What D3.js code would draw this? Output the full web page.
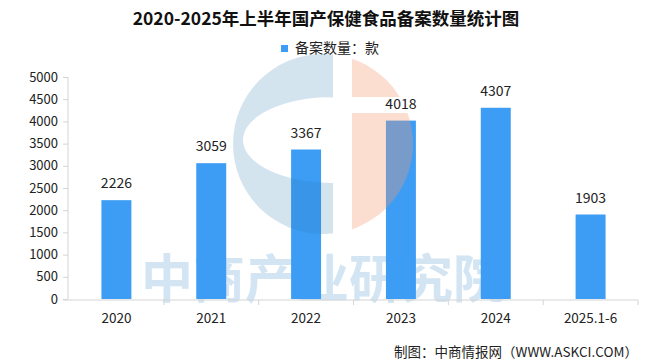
<!DOCTYPE html>
<html>
<head>
<meta charset="utf-8">
<script src="https://cdn.jsdelivr.net/npm/d3@7"></script>
<style>
  body { margin: 0; background: #fff; }
  text { font-family: "Noto Sans CJK SC", "Noto Sans", sans-serif; }
  .tick text { fill: #222; }
</style>
</head>
<body>
<script>
// data
const categories = ['2020', '2021', '2022', '2023', '2024', '2025.1-6'];
const values = [2226, 3059, 3367, 4018, 4307, 1903];
const yTicks = [0, 500, 1000, 1500, 2000, 2500, 3000, 3500, 4000, 4500, 5000];

const SIZE = { width: 646, height: 360 };
const PLOT = { left: 69, right: 638, top: 77, bottom: 299 };
const BAR_COLOR = '#3d9df5';

const svg = d3.select('body').append('svg')
    .attr('width', SIZE.width)
    .attr('height', SIZE.height);

const x = d3.scaleBand()
    .domain(categories)
    .range([PLOT.left, PLOT.right])
    .paddingInner(0.684)
    .paddingOuter(0.342);

const y = d3.scaleLinear()
    .domain([0, 5000])
    .range([PLOT.bottom, PLOT.top]);

// watermark text sits under the bars
svg.append('text')
    .attr('x', 323)
    .attr('y', 298)
    .attr('text-anchor', 'middle')
    .style('font-size', '52px')
    .style('font-weight', 700)
    .style('fill', '#d3e5f3')
    .text('中商产业研究院');

// title
svg.append('text')
    .attr('x', 326)
    .attr('y', 25)
    .attr('text-anchor', 'middle')
    .style('font-size', '17.5px')
    .style('font-weight', 700)
    .style('fill', '#111')
    .text('2020-2025年上半年国产保健食品备案数量统计图');

// legend
svg.append('rect')
    .attr('x', 281).attr('y', 45)
    .attr('width', 7).attr('height', 7)
    .attr('fill', BAR_COLOR);
svg.append('text')
    .attr('x', 295).attr('y', 53)
    .style('font-size', '14px')
    .style('fill', '#222')
    .text('备案数量：款');

// y axis
const yAxis = d3.axisLeft(y)
    .tickValues(yTicks)
    .tickFormat(d3.format('d'))
    .tickSize(5)
    .tickPadding(5);
const yAxisGroup = svg.append('g')
    .attr('transform', `translate(${PLOT.left - 1},0)`)
    .call(yAxis);
yAxisGroup.select('.domain').attr('stroke', '#d4d4d4').attr('d', `M0,${PLOT.top}V${PLOT.bottom}`);
yAxisGroup.selectAll('.tick line').attr('stroke', '#d4d4d4');
yAxisGroup.selectAll('.tick text').style('font-size', '13px');

// x axis: ticks at category boundaries
const xAxisGroup = svg.append('g')
    .attr('transform', `translate(0,${PLOT.bottom + 1})`);
xAxisGroup.append('line')
    .attr('x1', PLOT.left - 6).attr('x2', PLOT.right)
    .attr('stroke', '#d4d4d4');
const boundaries = categories.map(c => x(c) - x.step() * x.paddingInner() / 2).slice(1).concat([PLOT.right]);
xAxisGroup.selectAll('.xtick')
    .data(boundaries)
    .join('line')
    .attr('class', 'xtick')
    .attr('x1', d => d).attr('x2', d => d)
    .attr('y1', 0).attr('y2', 5)
    .attr('stroke', '#d4d4d4');
xAxisGroup.selectAll('.xlabel')
    .data(categories)
    .join('text')
    .attr('class', 'xlabel')
    .attr('x', d => x(d) + x.bandwidth() / 2)
    .attr('y', 23)
    .attr('text-anchor', 'middle')
    .style('font-size', '13.5px')
    .style('fill', '#222')
    .text(d => d);

// bars
svg.selectAll('.bar')
    .data(values)
    .join('rect')
    .attr('class', 'bar')
    .attr('x', (d, i) => x(categories[i]))
    .attr('width', x.bandwidth())
    .attr('y', d => y(d))
    .attr('height', d => y(0) - y(d))
    .attr('fill', BAR_COLOR);

svg.selectAll('.label')
    .data(values)
    .join('text')
    .attr('class', 'label')
    .attr('x', (d, i) => x(categories[i]) + x.bandwidth() / 2)
    .attr('y', d => y(d) - 12)
    .attr('text-anchor', 'middle')
    .style('font-size', '14px')
    .style('fill', '#222')
    .text(d => d);

// logo watermark on top of the bars
const logo = { cx: 323, cy: 144, r: 90 };
const defs = svg.append('defs');
defs.append('clipPath').attr('id', 'logoClip')
    .append('circle')
    .attr('cx', logo.cx).attr('cy', logo.cy).attr('r', logo.r);
const logoGroup = svg.append('g').attr('clip-path', 'url(#logoClip)');

// blue "C": left part of the circle with an elliptical hollow
const hx = 333, hy = 140, hrx = 90, hry = 43;
logoGroup.append('path')
    .attr('d', `M${logo.cx - logo.r},${logo.cy - logo.r}H${hx}V${logo.cy + logo.r}H${logo.cx - logo.r}Z ` +
        `M${hx},${hy - hry}A${hrx},${hry} 0 1,0 ${hx},${hy + hry}Z`)
    .attr('fill-rule', 'evenodd')
    .attr('fill', '#2a7ab0')
    .attr('opacity', 0.2);

// salmon right part with a horizontal gap
logoGroup.append('path')
    .attr('d', `M352,${logo.cy - logo.r}H${logo.cx + logo.r}V97H352Z M352,113H${logo.cx + logo.r}V${logo.cy + logo.r}H352Z`)
    .attr('fill', '#f59870')
    .attr('opacity', 0.32);

// source note
svg.append('text')
    .attr('x', 638)
    .attr('y', 357)
    .attr('text-anchor', 'end')
    .style('font-size', '13.5px')
    .style('fill', '#222')
    .text('制图：中商情报网（WWW.ASKCI.COM）');
</script>
</body>
</html>
